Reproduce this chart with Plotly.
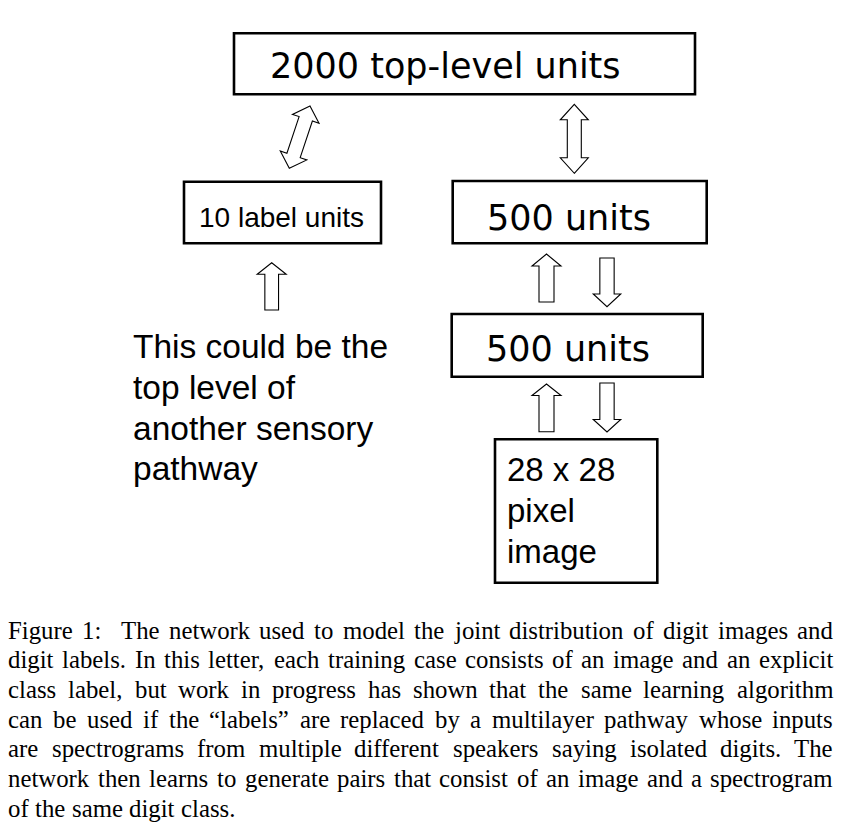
import math
import re
import plotly.graph_objects as go

W, H = 846, 834
PAGE_MARGIN = 8  # default body margin of the written html page

# ---- text content ----
top_label = "2000 top-level units"
label_units = "10 label units"
hidden_labels = ["500 units", "500 units"]
image_lines = ["28 x 28", "pixel", "image"]
side_lines = ["This could be the", "top level of", "another sensory", "pathway"]
caption_lines = [
    "Figure 1:  The network used to model the joint distribution of digit images and",
    "digit labels. In this letter, each training case consists of an image and an explicit",
    "class label, but work in progress has shown that the same learning algorithm",
    "can be used if the \u201clabels\u201d are replaced by a multilayer pathway whose inputs",
    "are spectrograms from multiple different speakers saying isolated digits. The",
    "network then learns to generate pairs that consist of an image and a spectrogram",
    "of the same digit class.",
]

SANS_WIDE = "DejaVu Sans"
SANS = "Liberation Sans, Arial, sans-serif"
SERIF = "Liberation Serif, Times New Roman, serif"

fig = go.Figure()
shapes = []


def box(x0, y0, x1, y1):
    shapes.append(dict(type="rect", xref="x", yref="y", x0=x0, y0=y0, x1=x1, y1=y1,
                       line=dict(color="black", width=2.6), fillcolor="rgba(0,0,0,0)"))


def block_arrow(tail, tip, shaft=14.0, head_w=28.0, head_len=13.0, double=False):
    (x0, y0), (x1, y1) = tail, tip
    L = math.hypot(x1 - x0, y1 - y0)
    ux, uy = (x1 - x0) / L, (y1 - y0) / L
    nx, ny = -uy, ux

    def pt(s, t):
        return (x0 + ux * s + nx * t, y0 + uy * s + ny * t)

    pts = []
    if double:
        pts += [pt(0, 0), pt(head_len, head_w / 2), pt(head_len, shaft / 2)]
    else:
        pts += [pt(0, shaft / 2)]
    pts += [pt(L - head_len, shaft / 2), pt(L - head_len, head_w / 2), pt(L, 0),
            pt(L - head_len, -head_w / 2), pt(L - head_len, -shaft / 2)]
    if double:
        pts += [pt(head_len, -shaft / 2), pt(head_len, -head_w / 2)]
    else:
        pts += [pt(0, -shaft / 2)]
    path = "M " + " L ".join(f"{x:.2f},{y:.2f}" for x, y in pts) + " Z"
    shapes.append(dict(type="path", xref="x", yref="y", path=path,
                       line=dict(color="black", width=1.1), fillcolor="white"))


def text(x, y, s, size, family, xanchor="left"):
    fig.add_annotation(x=x, y=y, xref="x", yref="y", text=s, showarrow=False,
                       xanchor=xanchor, yanchor="middle", borderpad=0, borderwidth=0,
                       font=dict(family=family, size=size, color="black"))


# ---- boxes ----
box(234, 33.3, 695, 94.3)          # top-level
box(184, 181.7, 381, 243.3)        # label units
box(452.7, 181, 706.7, 243.3)      # upper 500
box(451.7, 314, 702.7, 376.7)      # lower 500
box(495, 439.3, 657.3, 582.7)      # image

# ---- arrows ----
block_arrow((289.3, 168.3), (310.0, 106.0), shaft=14, head_w=28, head_len=13.5, double=True)
block_arrow((574.3, 173.3), (574.3, 104.3), shaft=14, head_w=28, head_len=15.5, double=True)
block_arrow((271.7, 310.0), (271.7, 262.7), shaft=13.7, head_w=29, head_len=11.5)
block_arrow((546.5, 302.0), (546.5, 254.0), shaft=15, head_w=29, head_len=12)
block_arrow((607.0, 258.0), (607.0, 306.7), shaft=14.3, head_w=27.5, head_len=12.7)
block_arrow((546.5, 431.7), (546.5, 384.0), shaft=15, head_w=29, head_len=11.5)
block_arrow((607.0, 383.0), (607.0, 432.0), shaft=14.3, head_w=27.5, head_len=12.5)

# ---- diagram text ----
text(445.5, 66.2, top_label, 35, SANS_WIDE, xanchor="center")
text(199, 217.0, label_units, 28, SANS)
text(487, 217.9, hidden_labels[0], 35, SANS_WIDE)
text(486, 348.6, hidden_labels[1], 35, SANS_WIDE)
for i, s in enumerate(image_lines):
    text(507, 469.3 + 41 * i, s, 33, SANS)
for i, s in enumerate(side_lines):
    text(132.5, 346.7 + 40.7 * i, s, 33.5, SANS)

# ---- caption (justified, word by word) ----
TIMES = {
    'a': 444, 'b': 500, 'c': 444, 'd': 500, 'e': 444, 'f': 333, 'g': 500, 'h': 500,
    'i': 278, 'j': 278, 'k': 500, 'l': 278, 'm': 778, 'n': 500, 'o': 500, 'p': 500,
    'q': 500, 'r': 333, 's': 389, 't': 278, 'u': 500, 'v': 500, 'w': 722, 'x': 500,
    'y': 500, 'z': 444, 'F': 556, 'T': 611, 'I': 333, '1': 500, ':': 278, ',': 250,
    '.': 250, '\u201c': 444, '\u201d': 444, ' ': 250,
}
CAP_FS = 24.8
CAP_LEFT, CAP_RIGHT = 8.3, 833.0
cap_baselines = [638.5 + 29.67 * i for i in range(len(caption_lines))]


def width_px(s):
    return sum(TIMES.get(c, 500) for c in s) / 1000.0 * CAP_FS


for i, line in enumerate(caption_lines):
    parts = re.split(r"( +)", line)
    words = parts[0::2]
    gaps = [len(g) for g in parts[1::2]]
    last = i == len(caption_lines) - 1
    if last:
        unit = width_px(" ")
    else:
        unit = (CAP_RIGHT - CAP_LEFT - sum(width_px(w) for w in words)) / sum(gaps)
    x = CAP_LEFT
    ymid = cap_baselines[i] - 0.3375 * CAP_FS
    for j, w in enumerate(words):
        text(x, ymid, w, CAP_FS, SERIF)
        x += width_px(w)
        if j < len(gaps):
            x += unit * gaps[j]

# The page places the figure 8px in from the top-left corner, so the axes
# start at 8 to keep the diagram where it sits in the reference.
fig.update_layout(
    width=W - 2 * PAGE_MARGIN, height=H - 2 * PAGE_MARGIN,
    margin=dict(l=0, r=0, t=0, b=0),
    paper_bgcolor="white", plot_bgcolor="white",
    shapes=shapes, showlegend=False,
    xaxis=dict(range=[PAGE_MARGIN, W - PAGE_MARGIN], visible=False, fixedrange=True),
    yaxis=dict(range=[H - PAGE_MARGIN, PAGE_MARGIN], visible=False, fixedrange=True),
)

fig.write_html("out.html")
